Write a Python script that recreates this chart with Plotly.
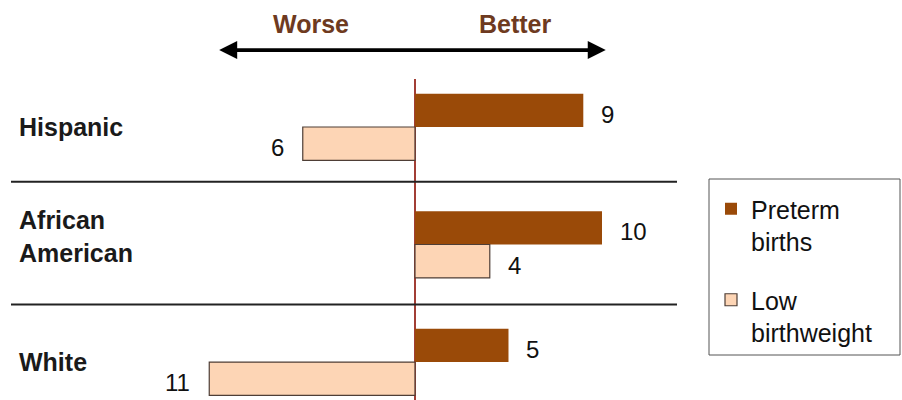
import plotly.graph_objects as go

# ---- data ----
categories = ["Hispanic", "African<br>American", "White"]
preterm = [9, 10, 5]          # positive = better
low_birthweight = [-6, 4, -11]  # negative = worse
series_names = ["Preterm<br>births", "Low<br>birthweight"]
header_labels = ["Worse", "Better"]

# ---- style ----
C_PRE = "#9A4A08"
C_LBW = "#FDD5B5"
C_LBW_LINE = "#4E3E36"
C_ZERO = "#A23E35"
C_HEAD = "#6E3A20"
FONT = "Liberation Sans, Arial, sans-serif"
BARGAP = 0.432

ypos = list(range(len(categories)))

fig = go.Figure()
fig.add_trace(go.Bar(
    y=ypos, x=preterm, orientation="h", name=series_names[0],
    marker=dict(color=C_PRE, line=dict(color=C_PRE, width=0)),
    legendgroup="a", hoverinfo="skip",
))
fig.add_trace(go.Bar(
    y=ypos, x=low_birthweight, orientation="h", name=series_names[1],
    marker=dict(color=C_LBW, line=dict(color=C_LBW_LINE, width=1.2)),
    legendgroup="b", hoverinfo="skip",
))

half = (1 - BARGAP) / 4  # offset of each bar centre from category centre
annotations = []
for i in ypos:
    for val, off in ((preterm[i], -half), (low_birthweight[i], half)):
        annotations.append(dict(
            x=val, y=i + off, xref="x", yref="y", text=str(abs(val)),
            showarrow=False, xanchor="left" if val >= 0 else "right",
            xshift=16 if val >= 0 else -17, yshift=-4,
            font=dict(family=FONT, size=24, color="#111111"),
        ))
    annotations.append(dict(
        x=0, y=i, xref="paper", yref="y", text="<b>%s</b>" % categories[i],
        showarrow=False, xanchor="left", align="left", xshift=6,
        yshift=8 if "<br>" in categories[i] else 0,
        font=dict(family=FONT, size=25, color="#1a1a1a"),
    ))

# header
annotations.append(dict(x=-5.56, y=1.171, xref="x", yref="paper", yanchor="middle",
                        text="<b>%s</b>" % header_labels[0],
                        showarrow=False, font=dict(family=FONT, size=25, color=C_HEAD)))
annotations.append(dict(x=5.35, y=1.171, xref="x", yref="paper", yanchor="middle",
                        text="<b>%s</b>" % header_labels[1],
                        showarrow=False, font=dict(family=FONT, size=25, color=C_HEAD)))
annotations.append(dict(x=10.2, y=1.090, xref="x", yref="paper", ax=-10.55, ay=0,
                        axref="x", ayref="pixel", text="", showarrow=True,
                        arrowhead=2, startarrowhead=2, arrowside="end+start",
                        arrowwidth=3.6, arrowsize=1, startarrowsize=1, arrowcolor="#000000"))

shapes = [
    dict(type="line", xref="paper", yref="y", x0=0, x1=1, y0=0.465, y1=0.465,
         line=dict(color="#222222", width=2)),
    dict(type="line", xref="paper", yref="y", x0=0, x1=1, y0=1.51, y1=1.51,
         line=dict(color="#222222", width=2)),
    dict(type="rect", xref="paper", yref="paper",
         x0=(709 - 11) / 666, x1=(900 - 11) / 666,
         y0=(400 - 355) / 321, y1=(400 - 179) / 321,
         line=dict(color="#555555", width=1), fillcolor="rgba(0,0,0,0)"),
]

fig.update_layout(
    width=902, height=400,
    margin=dict(l=11, r=225, t=79, b=0, pad=0),
    paper_bgcolor="white", plot_bgcolor="white",
    barmode="group", bargap=BARGAP, bargroupgap=0,
    showlegend=True,
    legend=dict(
        x=(711 - 11) / 666, y=(400 - 186) / 321, xanchor="left", yanchor="top",
        font=dict(family=FONT, size=25, color="#111111"),
        bgcolor="rgba(0,0,0,0)", borderwidth=0,
        traceorder="grouped", tracegroupgap=23, valign="top",
        itemwidth=30,
    ),
    xaxis=dict(range=[-21.6, 14.01], showgrid=False, showticklabels=False, ticks="",
               zeroline=True, zerolinecolor=C_ZERO, zerolinewidth=2.3, fixedrange=True),
    yaxis=dict(range=[2.323, -0.4085], showgrid=False, showticklabels=False, ticks="",
               zeroline=False, fixedrange=True),
    annotations=annotations,
    shapes=shapes,
)

fig.write_html("out.html")
